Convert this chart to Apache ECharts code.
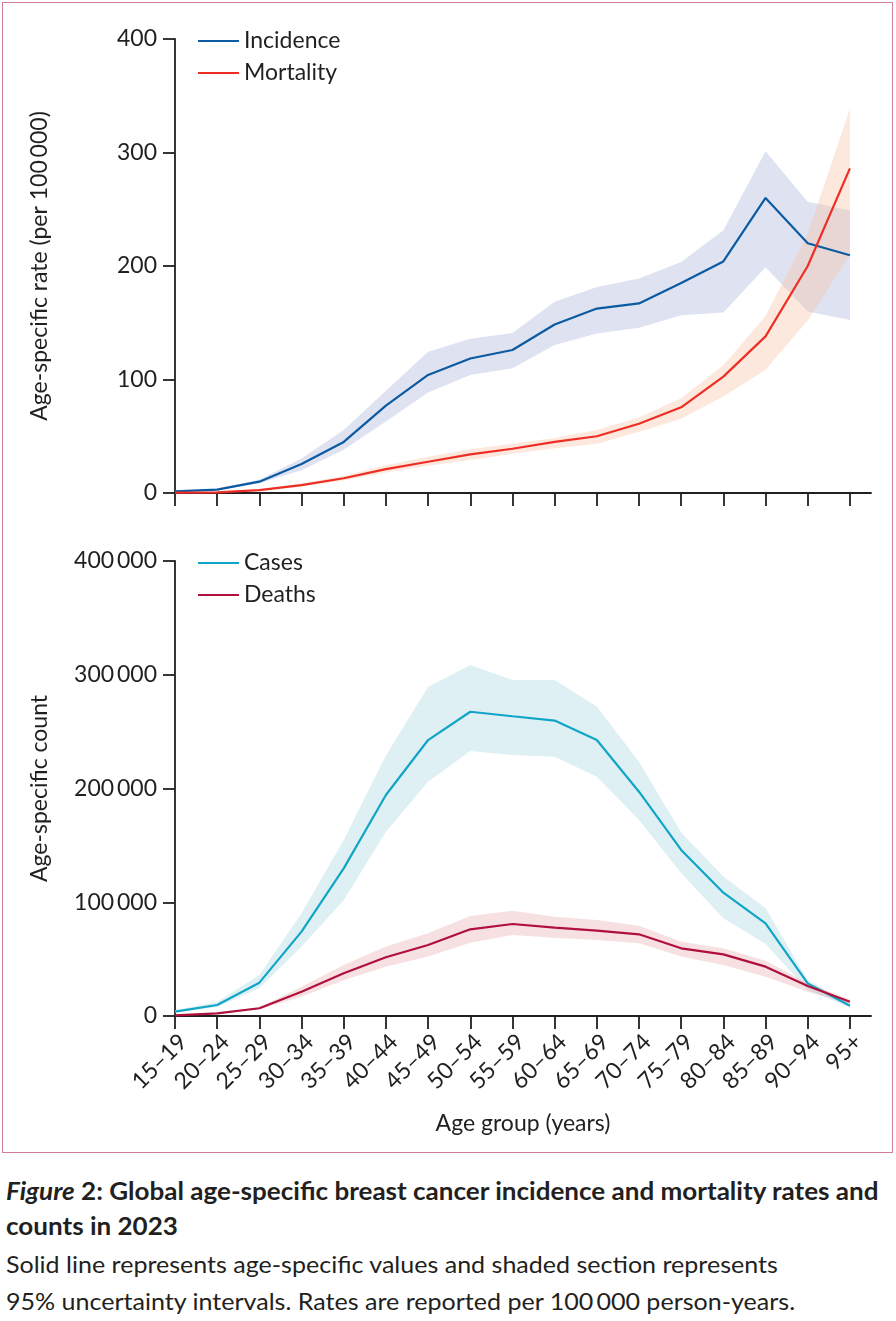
<!DOCTYPE html>
<html lang="en">
<head>
<meta charset="UTF-8">
<title>Breast cancer age-specific rates and counts</title>
<script src="https://cdn.jsdelivr.net/npm/echarts@6/dist/echarts.min.js"></script>
<style>
  body { margin: 0; background: #fff; font-family: Lato, sans-serif; color: #231f20; }
  #frame { position: absolute; left: 2px; top: 2px; width: 889px; height: 1149px; border: 1.5px solid #d27b9a; }
  #main { position: absolute; left: 0; top: 0; width: 896px; height: 1155px; }
  .cap { position: absolute; left: 6px; font-size: 24px; line-height: 24px; white-space: nowrap; transform-origin: 0 0; }
</style>
</head>
<body>
<div id="main"></div>
<div id="frame"></div>
<div class="cap" id="c1" style="top:1179px" data-w="872"><b><i>Figure</i> 2: Global age-specific breast cancer incidence and mortality rates and</b></div>
<div class="cap" id="c2" style="top:1214px" data-ref="c1"><b>counts in 2023</b></div>
<div class="cap" id="c3" style="top:1252px" data-w="772">Solid line represents age-specific values and shaded section represents</div>
<div class="cap" id="c4" style="top:1289px" data-w="789">95% uncertainty intervals. Rates are reported per 100&#8201;000 person-years.</div>
<script>
// age groups on the x axis
const categories = ['15–19', '20–24', '25–29', '30–34', '35–39', '40–44', '45–49', '50–54', '55–59',
  '60–64', '65–69', '70–74', '75–79', '80–84', '85–89', '90–94', '95+'];

// rates per 100 000 (top panel)
const incidence     = [1.5, 3, 10, 25.5, 45, 77, 104, 118.5, 126, 148.5, 162.5, 167, 185, 204, 260, 220, 209.5];
const incidenceLow  = [1, 2.5, 8.5, 20, 38, 63, 88.5, 104, 110, 130.5, 140.5, 145.5, 156.5, 159, 199, 160, 152.5];
const incidenceHigh = [2, 4, 12, 30.5, 55.5, 90, 124.5, 136, 141, 168.5, 181.5, 189, 203.5, 231.5, 301, 256.5, 249];
const mortality     = [0.3, 0.6, 2.6, 7, 13, 21, 27.5, 34, 39, 45, 50, 61, 75.5, 102.5, 138, 200, 286];
const mortalityLow  = [0.2, 0.4, 2, 6, 11, 18, 24, 29, 34.5, 39.5, 43.5, 54, 65.5, 85, 108.5, 152, 210];
const mortalityHigh = [0.5, 0.9, 3.2, 8.5, 15, 24.5, 32, 38.5, 43.5, 48.5, 55.5, 66.5, 83.5, 112.5, 156, 228.5, 338.5];

// counts (bottom panel)
const cases     = [3800, 9700, 29300, 74200, 129800, 194300, 242600, 267500, 263500, 259700, 242600, 197200, 146000, 108400, 81500, 28700, 9000];
const casesLow  = [3000, 8000, 24300, 61000, 101700, 162000, 206000, 233000, 229500, 228000, 210400, 172300, 125600, 86000, 63300, 22900, 7500];
const casesHigh = [5000, 12600, 36000, 90300, 154700, 229000, 289500, 308600, 295400, 295400, 272000, 223600, 161400, 122700, 95000, 31600, 11000];
const deaths     = [500, 2300, 6800, 21400, 37500, 51600, 62400, 76200, 80900, 77700, 75000, 71800, 59500, 54200, 43400, 26400, 12600];
const deathsLow  = [300, 1800, 5800, 17000, 31600, 43400, 52200, 64500, 71200, 68800, 66800, 63900, 52200, 44800, 34500, 21400, 10500];
const deathsHigh = [700, 2800, 7800, 25800, 44800, 61000, 72700, 87900, 92600, 87300, 84400, 79400, 65300, 59500, 48600, 28700, 14500];

const rateTicks = [0, 100, 200, 300, 400];
const countTicks = [0, 100000, 200000, 300000, 400000];

const ink = '#231f20';
const font = 'Lato';
const idx = categories.map((c, i) => i);

function pts(arr) { return arr.map((v, i) => [i, v]); }
function thin(v) { return v === 0 ? '0' : String(v).replace(/\B(?=(\d{3})+(?!\d))/g, '\u2009'); }

function xAxis(gridIndex, showLabels) {
  return {
    type: 'value', gridIndex: gridIndex, min: 0, max: 16.5,
    name: showLabels ? 'Age group (years)' : '',
    nameLocation: 'middle', nameGap: 96,
    nameTextStyle: { fontFamily: font, fontSize: 23, color: ink },
    splitLine: { show: false },
    axisLine: { lineStyle: { color: ink, width: 1.8 } },
    axisTick: { show: true, customValues: idx, length: 13, lineStyle: { color: ink, width: 1.8 } },
    axisLabel: {
      show: showLabels, customValues: idx, rotate: 45, margin: 14, verticalAlign: 'top',
      fontFamily: font, fontSize: 23, color: ink,
      formatter: v => categories[v]
    }
  };
}

function yAxis(gridIndex, name, ticks) {
  return {
    type: 'value', gridIndex: gridIndex, min: 0, max: ticks[ticks.length - 1], interval: ticks[1] - ticks[0],
    name: name, nameLocation: 'middle', nameRotate: 90, nameGap: 124,
    nameTextStyle: { fontFamily: font, fontSize: 23, color: ink },
    splitLine: { show: false },
    axisLine: { show: true, lineStyle: { color: ink, width: 1.8 } },
    axisTick: { show: true, length: 12, lineStyle: { color: ink, width: 1.8 } },
    axisLabel: { margin: 18, fontFamily: font, fontSize: 23, color: ink, formatter: thin }
  };
}

// uncertainty interval as one filled polygon, built from the axis scales
function band(name, axis, lo, hi, color) {
  return {
    name: name + ' interval', type: 'custom', xAxisIndex: axis, yAxisIndex: axis, silent: true,
    data: lo.map((v, i) => [i, v, hi[i]]),
    encode: { x: 0, y: [1, 2] },
    renderItem: (params, api) => {
      if (params.dataIndex !== 0) return null;
      const top = hi.map((v, i) => api.coord([i, v]));
      const bottom = lo.map((v, i) => api.coord([i, v])).reverse();
      return { type: 'polygon', shape: { points: top.concat(bottom) }, style: { fill: color } };
    }
  };
}

function line(name, axis, arr, color) {
  return { name: name, type: 'line', xAxisIndex: axis, yAxisIndex: axis, data: pts(arr), color: color,
    symbol: 'none', lineStyle: { color: color, width: 2.2 } };
}

function legend(top, names) {
  return {
    top: top, left: 193, orient: 'vertical', itemWidth: 41, itemHeight: 2.2, itemGap: 8, icon: 'rect',
    data: names, selectedMode: false,
    textStyle: { fontFamily: font, fontSize: 23, lineHeight: 24, color: ink }
  };
}

const options = {
  animation: false,
  grid: [
    { left: 175, top: 39, width: 696, height: 454 },
    { left: 175, top: 561, width: 696, height: 455 }
  ],
  xAxis: [xAxis(0, false), xAxis(1, true)],
  yAxis: [yAxis(0, 'Age-specific rate (per 100\u2009000)', rateTicks), yAxis(1, 'Age-specific count', countTicks)],
  legend: [legend(24, ['Incidence', 'Mortality']), legend(546, ['Cases', 'Deaths'])],
  series: [
    band('Incidence', 0, incidenceLow, incidenceHigh, '#dfe3f1'),
    band('Mortality', 0, mortalityLow, mortalityHigh, 'rgba(247,190,160,0.36)'),
    band('Cases', 1, casesLow, casesHigh, '#dff0f5'),
    band('Deaths', 1, deathsLow, deathsHigh, 'rgba(226,140,145,0.27)'),
    line('Incidence', 0, incidence, '#0b5aa2'),
    line('Mortality', 0, mortality, '#ee2e24'),
    line('Cases', 1, cases, '#10a5c6'),
    line('Deaths', 1, deaths, '#b0103c')
  ]
};

let myChart = echarts.init(document.getElementById('main'));
myChart.setOption(options);

// squeeze the caption lines to the narrow journal font widths
document.querySelectorAll('.cap').forEach(el => {
  if (el.dataset.w) el.dataset.s = el.dataset.w / el.offsetWidth;
});
document.querySelectorAll('.cap').forEach(el => {
  const s = el.dataset.s || document.getElementById(el.dataset.ref).dataset.s;
  el.style.transform = 'scaleX(' + s + ')';
});
</script>
</body>
</html>
